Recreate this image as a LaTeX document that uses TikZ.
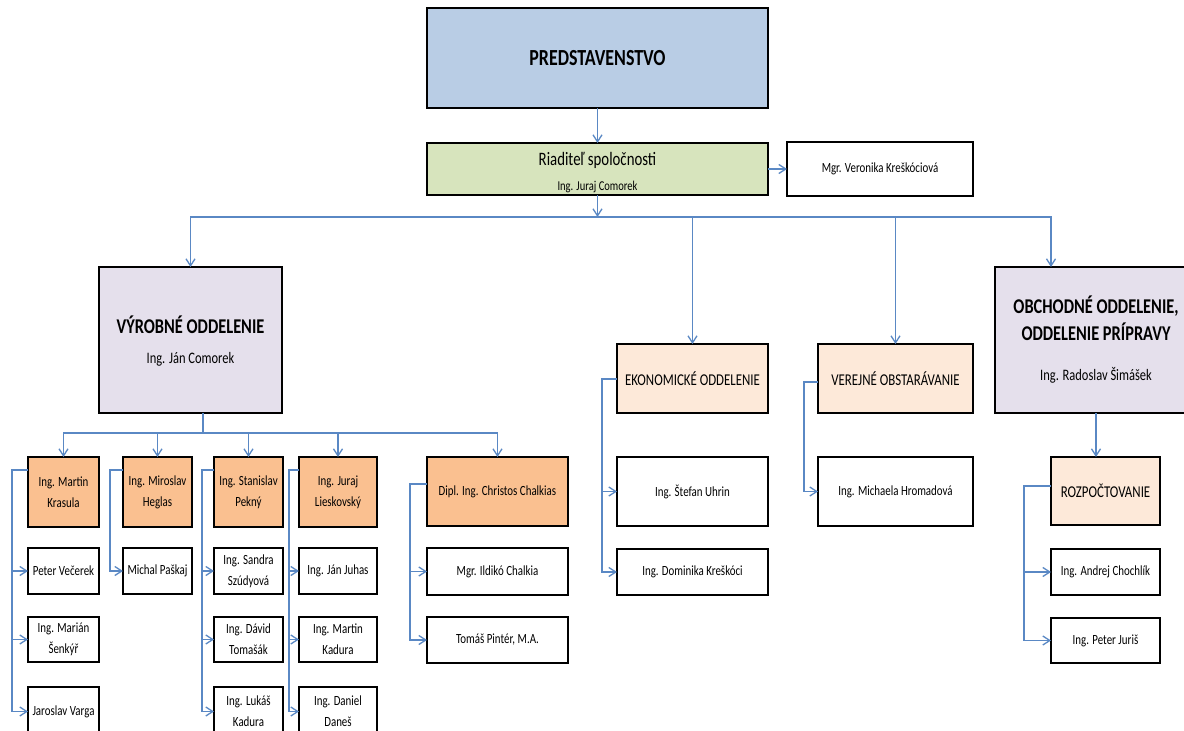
\documentclass[tikz,border=0pt]{standalone}
\usepackage{fontspec}
\setmainfont{Carlito}[FakeStretch=0.78]
\usetikzlibrary{arrows.meta}
\definecolor{bluefill}{RGB}{185,205,229}
\definecolor{greenfill}{RGB}{215,228,189}
\definecolor{lavfill}{RGB}{229,224,236}
\definecolor{peachfill}{RGB}{253,233,217}
\definecolor{orangefill}{RGB}{250,192,144}
\definecolor{conncol}{RGB}{90,136,196}
\tikzset{
  box/.style={draw=black, line width=2.4pt, inner sep=0pt, outer sep=0pt, align=center,
    font=\fontsize{14}{21}\selectfont, text=black},
  dept/.style={fill=peachfill, font=\fontsize{16.5}{20}\selectfont},
  lead/.style={fill=orangefill},
  person/.style={fill=white},
  link/.style={draw=conncol, line width=1.3pt},
  conn/.style={link, -{Straight Barb[length=7pt,width=9pt]}},
}
\newcommand\mybox[7]{%
  \pgfmathsetmacro\mbcx{(#2+#4)/2}%
  \pgfmathsetmacro\mbcy{(#3+#5)/2}%
  \pgfmathsetmacro\mbw{#4-#2}%
  \pgfmathsetmacro\mbh{#5-#3}%
  \node[box,#6,minimum width=\mbw pt,minimum height=\mbh pt] (#1) at (\mbcx,\mbcy) {#7};}
\begin{document}
\begin{tikzpicture}[x=1pt,y=-1pt]
\useasboundingbox (0,0) rectangle (1184,731);
\clip (0,0) rectangle (1184,731);
\fill[white] (0,0) rectangle (1184,731);
% top
\mybox{pred}{427}{8}{768}{108}{fill=bluefill,font=\fontsize{23}{28}\selectfont\bfseries}{PREDSTAVENSTVO}
\mybox{riad}{427}{143}{768}{195}{fill=greenfill}{\rule{0pt}{20pt}{\fontsize{19}{23}\selectfont Riaditeľ spoločnosti}\\[4pt]{\fontsize{13.5}{16}\selectfont Ing. Juraj Comorek}}
\mybox{vero}{787}{142}{973}{196}{person}{Mgr. Veronika Kreškóciová}
% departments
\mybox{vyr}{99}{267}{282}{413}{fill=lavfill}{\rule{0pt}{20pt}{\fontsize{21}{27}\selectfont\bfseries VÝROBNÉ ODDELENIE}\\[9pt]{\fontsize{16}{20}\selectfont Ing. Ján Comorek}}
\mybox{obch}{995}{267}{1197}{413}{fill=lavfill,font=\fontsize{21}{27}\selectfont\bfseries}{OBCHODNÉ ODDELENIE,\\ODDELENIE PRÍPRAVY\\[13pt]{\mdseries\fontsize{16}{20}\selectfont Ing. Radoslav Šimášek}}
\mybox{eko}{617}{344}{768}{413}{dept}{EKONOMICKÉ ODDELENIE}
\mybox{ver}{818}{344}{973}{413}{dept}{VEREJNÉ OBSTARÁVANIE}
\mybox{uhr}{617}{457}{768}{526}{person}{Ing. Štefan Uhrin}
\mybox{dom}{617}{549}{768}{595}{person}{Ing. Dominika Kreškóci}
\mybox{mic}{818}{457}{973}{526}{person}{Ing. Michaela Hromadová}
\mybox{roz}{1051}{457}{1160}{525}{dept}{ROZPOČTOVANIE}
\mybox{and}{1051}{549}{1160}{595}{person}{Ing. Andrej Chochlík}
\mybox{jur}{1051}{618}{1160}{663}{person}{Ing. Peter Juriš}
% production subtree
\mybox{kra}{28}{457}{99}{527}{lead}{Ing. Martin\\Krasula}
\mybox{heg}{123}{457}{192}{527}{lead}{Ing. Miroslav\\Heglas}
\mybox{pek}{214}{457}{283}{527}{lead}{Ing. Stanislav\\Pekný}
\mybox{lie}{299}{457}{377}{527}{lead}{Ing. Juraj\\Lieskovský}
\mybox{cha}{427}{457}{568}{526}{lead}{Dipl. Ing. Christos Chalkias}
\mybox{vec}{28}{548}{99}{594}{person}{Peter Večerek}
\mybox{pas}{123}{548}{192}{594}{person}{Michal Paškaj}
\mybox{san}{214}{548}{283}{594}{person}{Ing. Sandra\\Szúdyová}
\mybox{juh}{299}{548}{377}{594}{person}{Ing. Ján Juhas}
\mybox{ild}{427}{548}{568}{595}{person}{Mgr. Ildikó Chalkia}
\mybox{sen}{28}{617}{99}{662}{person}{Ing. Marián\\Šenkýř}
\mybox{dav}{214}{617}{283}{662}{person}{Ing. Dávid\\Tomašák}
\mybox{mka}{299}{617}{377}{662}{person}{Ing. Martin\\Kadura}
\mybox{pin}{427}{617}{568}{663}{person}{Tomáš Pintér, M.A.}
\mybox{var}{28}{687}{99}{736}{person}{Jaroslav Varga}
\mybox{luk}{214}{687}{283}{736}{person}{Ing. Lukáš\\Kadura}
\mybox{dan}{299}{687}{377}{736}{person}{Ing. Daniel\\Daneš}
% connectors top
\draw[conn] (pred) -- (riad);
\draw[conn] (riad) -- (vero);
\coordinate (busM) at (597.5,217);
\coordinate (busR) at (1051,217);
\draw[conn] (riad) -- (busM);
\draw[conn] (busM) -| (vyr);
\draw[conn] (busM) -| (eko);
\draw[conn] (busM) -| (ver);
\draw[conn] (busM) -- (busR) -- (busR |- obch.north);
\draw[conn] (obch.south) -- (obch.south |- roz.north);
% production bus
\coordinate (vbus) at (203,433);
\draw[link] (vyr.south -| vbus) -- (vbus);
\draw[conn] (vbus) -| (kra);
\draw[conn] (vbus) -| (heg);
\draw[conn] (vbus) -| (pek);
\draw[conn] (vbus) -| (lie);
\draw[conn] (vbus) -| (cha);
% side connectors
\coordinate (kx) at (12,470);
\draw[conn] (kra.west |- kx) -- (kx) |- (vec);
\draw[conn] (kx) |- (sen);
\draw[conn] (kx) |- (var);
\coordinate (hx) at (110,470);
\draw[conn] (heg.west |- hx) -- (hx) |- (pas);
\coordinate (px) at (202,470);
\draw[conn] (pek.west |- px) -- (px) |- (san);
\draw[conn] (px) |- (dav);
\draw[conn] (px) |- (luk);
\coordinate (lx) at (289,470);
\draw[conn] (lie.west |- lx) -- (lx) |- (juh);
\draw[conn] (lx) |- (mka);
\draw[conn] (lx) |- (dan);
\coordinate (chx) at (410,484);
\draw[conn] (cha.west |- chx) -- (chx) |- (ild);
\draw[conn] (chx) |- (pin);
\coordinate (ex) at (602,379);
\draw[conn] (eko.west |- ex) -- (ex) |- (uhr);
\draw[conn] (ex) |- (dom);
\coordinate (vx) at (804,382);
\draw[conn] (ver.west |- vx) -- (vx) |- (mic);
\coordinate (rx) at (1024,486);
\draw[conn] (roz.west |- rx) -- (rx) |- (and);
\draw[conn] (rx) |- (jur);
\end{tikzpicture}
\end{document}
